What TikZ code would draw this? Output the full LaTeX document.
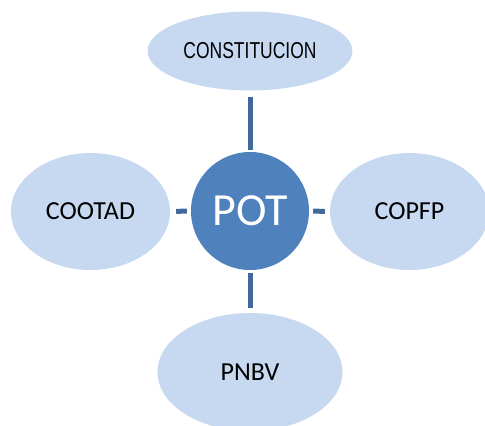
\documentclass[tikz,border=0pt]{standalone}
\usepackage{fontspec}
\setmainfont{Carlito}
\newfontfamily\narrowfont[FakeStretch=0.76]{Liberation Sans}
\usetikzlibrary{shapes.geometric}
\definecolor{lightfill}{HTML}{C6D9F1}
\definecolor{potfill}{HTML}{4F81BD}
\definecolor{linkcol}{HTML}{41689A}
\tikzset{
  oval/.style={ellipse, fill=lightfill, draw=none, inner sep=0pt, text=black, font=\fontsize{26}{30}\selectfont},
  hub/.style={circle, fill=potfill, draw=none, inner sep=0pt, minimum size=118pt, text=white, font=\fontsize{46}{50}\selectfont},
  link/.style={draw=linkcol, line width=5pt, line cap=butt}
}
\begin{document}
\begin{tikzpicture}[x=1pt,y=-1pt]
\useasboundingbox (0,0) rectangle (485,426);
\clip (0,0) rectangle (485,426);
\node[hub] (pot) at (250,211) {POT};
\node[oval, minimum width=205pt, minimum height=79pt, font=\narrowfont\fontsize{23}{26}\selectfont] (top) at (250,51) {CONSTITUCION};
\node[oval, minimum width=159pt, minimum height=117pt] (left) at (90.5,211.5) {COOTAD};
\node[oval, minimum width=159pt, minimum height=117pt] (right) at (409.5,211.5) {COPFP};
\node[oval, minimum width=185pt, minimum height=118pt] (bottom) at (250,372) {PNBV};
\draw[link, shorten <=6pt, shorten >=2pt] (top.south) -- (pot.north);
\draw[link, shorten <=6pt, shorten >=4pt] (left.east) -- (pot.west);
\draw[link, shorten <=4pt, shorten >=5pt] (pot.east) -- (right.west);
\draw[link, shorten <=3pt, shorten >=5pt] (pot.south) -- (bottom.north);
\end{tikzpicture}
\end{document}
